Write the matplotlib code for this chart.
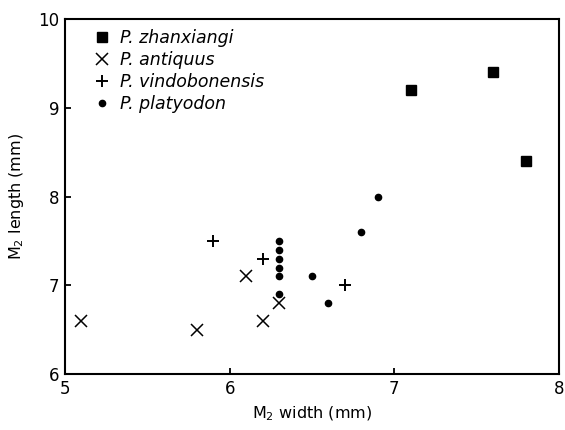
import matplotlib.pyplot as plt

# M2 width / length (mm)
zhan_w = [7.1, 7.6, 7.8]
zhan_l = [9.2, 9.4, 8.4]

anti_w = [5.1, 5.8, 6.1, 6.2, 6.3]
anti_l = [6.6, 6.5, 7.1, 6.6, 6.8]

vind_w = [5.9, 6.2, 6.7]
vind_l = [7.5, 7.3, 7.0]

plat_w = [6.3, 6.3, 6.3, 6.3, 6.3, 6.3, 6.5, 6.6, 6.8, 6.9]
plat_l = [7.5, 7.4, 7.3, 7.2, 7.1, 6.9, 7.1, 6.8, 7.6, 8.0]

plt.rcParams['font.family'] = 'DejaVu Sans'

fig = plt.figure(figsize=(5.65, 4.3), dpi=100)
ax = fig.add_axes([65 / 565, 1 - 374 / 430, 494 / 565, 355 / 430])

ax.plot(zhan_w, zhan_l, 's', color='black', markersize=7, label='P. zhanxiangi')
ax.plot(anti_w, anti_l, 'x', color='black', markersize=8, markeredgewidth=1.1,
        label='P. antiquus')
ax.plot(vind_w, vind_l, '+', color='black', markersize=9, markeredgewidth=1.4,
        label='P. vindobonensis')
ax.plot(plat_w, plat_l, 'o', color='black', markersize=4.5, label='P. platyodon')

ax.set_xlim(5, 8)
ax.set_ylim(6, 10)
ax.set_xticks([5, 6, 7, 8])
ax.set_yticks([6, 7, 8, 9, 10])

for s in ax.spines.values():
    s.set_linewidth(1.5)
ax.tick_params(direction='in', length=4, width=1.3, labelsize=12, pad=4)

ax.set_xlabel(r'M$_2$ width (mm)', fontsize=11.5, labelpad=5)
ax.set_ylabel(r'M$_2$ length (mm)', fontsize=11.5, labelpad=9)

leg = ax.legend(loc='upper left', frameon=False, fontsize=12.5, handletextpad=0.4,
                labelspacing=0.22, borderaxespad=0.3, handlelength=1.2,
                bbox_to_anchor=(0.03, 1.005))
for t in leg.get_texts():
    t.set_fontstyle('italic')

fig.savefig('out.png', dpi=100)
